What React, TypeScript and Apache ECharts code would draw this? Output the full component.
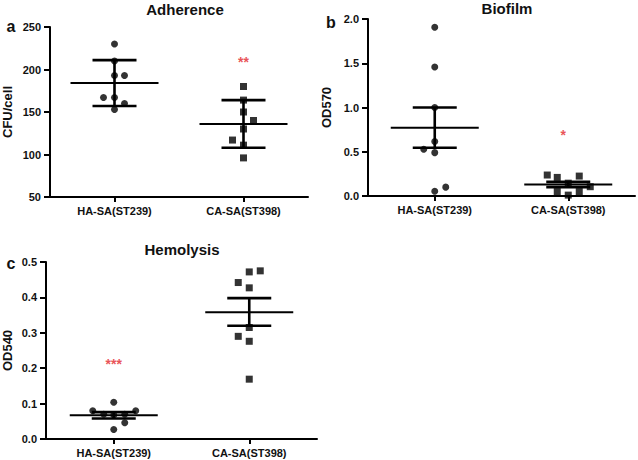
import React, { useEffect, useRef } from "react";
import * as echarts from "echarts";

const categories = ["HA-SA(ST239)", "CA-SA(ST398)"];

// Panel a: Adherence (CFU/cell)
const adherenceHA = [230, 210, 193, 193, 167, 167, 160, 153];
const adherenceCA = [180, 164, 150, 140, 130, 117, 111, 96];
const adherenceMean = [184, 136];
const adherenceLow = [157, 108];
const adherenceHigh = [211, 164];
const adherenceTicks = [50, 100, 150, 200, 250];

// Panel b: Biofilm (OD570)
const biofilmHA = [1.906, 1.457, 1.0, 0.615, 0.528, 0.49, 0.1, 0.053];
const biofilmCA = [0.237, 0.21, 0.145, 0.225, 0.105, 0.05, 0.05, 0.01];
const biofilmMean = [0.77, 0.13];
const biofilmLow = [0.545, 0.1];
const biofilmHigh = [1.0, 0.16];
const biofilmTicks = [0, 0.5, 1.0, 1.5, 2.0];

// Panel c: Hemolysis (OD540)
const hemolysisHA = [0.104, 0.08, 0.08, 0.07, 0.068, 0.07, 0.046, 0.027];
const hemolysisCA = [0.472, 0.475, 0.442, 0.427, 0.315, 0.29, 0.276, 0.169];
const hemolysisMean = [0.067, 0.358];
const hemolysisLow = [0.058, 0.32];
const hemolysisHigh = [0.076, 0.398];
const hemolysisTicks = [0, 0.1, 0.2, 0.3, 0.4, 0.5];

// significance marks: [category index, value, text]
const adherenceSig: [number, number, string] = [1, 208.8, "**"];
const biofilmSig: [number, number, string] = [1, 0.69, "*"];
const hemolysisSig: [number, number, string] = [0, 0.212, "***"];

// horizontal jitter of points (px)
const jitterAHA = [0, 0, 0, 10, -11, 0, 10, 0];
const jitterACA = [0, 0, 0, 10, 0, -11, 0, 0];
const jitterBHA = [0, 0, 0, 0, -11, 0, 11, 0];
const jitterBCA = [-21, -11, 0, 11, 22, -11, 11, 0];
const jitterCHA = [0, -21, 22, -10, 0, 11, 11, 0];
const jitterCCA = [0, 11, -11, 0, 0, -11, 0, 0];

const FONT = "'Liberation Sans', Arial, Helvetica, sans-serif";

export default function App() {
  const ref = useRef<HTMLDivElement>(null);

  useEffect(() => {
    if (!ref.current) return;
    const chart = echarts.init(ref.current, undefined, { renderer: "svg" });

    const grids = [
      { left: 50, top: 27, width: 258, height: 170 },
      { left: 368, top: 19, width: 267, height: 177 },
      { left: 45, top: 262, width: 272, height: 177 },
    ];

    const xAxis = grids.map((_, i) => ({
      type: "category",
      gridIndex: i,
      data: categories,
      boundaryGap: true,
      axisLine: { lineStyle: { color: "#000", width: 2 } },
      axisTick: { show: true, alignWithLabel: true, length: 5, lineStyle: { color: "#000", width: 2 } },
      axisLabel: { color: "#111", fontWeight: "bold", fontSize: 11, fontFamily: FONT, margin: 8 },
      splitLine: { show: false },
    }));

    const yDefs = [
      { ticks: adherenceTicks, name: "CFU/cell", gap: 36, fmt: (v: number) => String(v) },
      { ticks: biofilmTicks, name: "OD570", gap: 35, fmt: (v: number) => v.toFixed(1) },
      { ticks: hemolysisTicks, name: "OD540", gap: 32, fmt: (v: number) => v.toFixed(1) },
    ];

    const yAxis = yDefs.map((d, i) => ({
      type: "value",
      gridIndex: i,
      min: d.ticks[0],
      max: d.ticks[d.ticks.length - 1],
      interval: d.ticks[1] - d.ticks[0],
      name: d.name,
      nameLocation: "middle",
      nameGap: d.gap,
      nameRotate: 90,
      nameTextStyle: { color: "#111", fontWeight: "bold", fontSize: 13, fontFamily: FONT },
      axisLine: { show: true, lineStyle: { color: "#000", width: 2 } },
      axisTick: { show: true, length: 6, lineStyle: { color: "#000", width: 2 } },
      axisLabel: { color: "#111", fontWeight: "bold", fontSize: 11, fontFamily: FONT, margin: 9, formatter: d.fmt },
      splitLine: { show: false },
    }));

    const pointSeries = (
      gi: number,
      cat: number,
      vals: number[],
      jit: number[],
      symbol: string
    ) => ({
      type: "scatter",
      xAxisIndex: gi,
      yAxisIndex: gi,
      symbol,
      symbolSize: 7,
      itemStyle: { color: "#000" },
      z: 2,
      data: vals.map((v, i) => ({ value: [cat, v], symbolOffset: [jit[i], 0] })),
    });

    const barSeries = (gi: number, mean: number[], low: number[], high: number[]) => ({
      type: "custom",
      xAxisIndex: gi,
      yAxisIndex: gi,
      z: 3,
      encode: { x: 0, y: [1, 2, 3] },
      data: categories.map((_, i) => [i, mean[i], low[i], high[i]]),
      renderItem: (_params: any, api: any) => {
        const c = api.value(0);
        const pm = api.coord([c, api.value(1)]);
        const pl = api.coord([c, api.value(2)]);
        const ph = api.coord([c, api.value(3)]);
        const s = { stroke: "#000", lineWidth: 2 };
        const t = { stroke: "#000", lineWidth: 2.6 };
        return {
          type: "group",
          children: [
            { type: "line", shape: { x1: pm[0] - 44, y1: pm[1], x2: pm[0] + 44, y2: pm[1] }, style: s },
            { type: "line", shape: { x1: pl[0], y1: pl[1], x2: ph[0], y2: ph[1] }, style: t },
            { type: "line", shape: { x1: pl[0] - 22, y1: pl[1], x2: pl[0] + 22, y2: pl[1] }, style: t },
            { type: "line", shape: { x1: ph[0] - 22, y1: ph[1], x2: ph[0] + 22, y2: ph[1] }, style: t },
          ],
        };
      },
    });

    const sigSeries = (gi: number, sig: [number, number, string], offsetX: number) => ({
      type: "scatter",
      xAxisIndex: gi,
      yAxisIndex: gi,
      symbol: "circle",
      symbolSize: 0.1,
      itemStyle: { color: "rgba(0,0,0,0)" },
      z: 4,
      label: {
        show: true,
        position: "inside",
        formatter: sig[2],
        color: "#e3262b",
        fontWeight: "bold",
        fontSize: 14,
        fontFamily: FONT,
        offset: [offsetX, 0],
      },
      data: [[sig[0], sig[1]]],
    });

    const series = [
      pointSeries(0, 0, adherenceHA, jitterAHA, "circle"),
      pointSeries(0, 1, adherenceCA, jitterACA, "rect"),
      barSeries(0, adherenceMean, adherenceLow, adherenceHigh),
      sigSeries(0, adherenceSig, 0),
      pointSeries(1, 0, biofilmHA, jitterBHA, "circle"),
      pointSeries(1, 1, biofilmCA, jitterBCA, "rect"),
      barSeries(1, biofilmMean, biofilmLow, biofilmHigh),
      sigSeries(1, biofilmSig, -5),
      pointSeries(2, 0, hemolysisHA, jitterCHA, "circle"),
      pointSeries(2, 1, hemolysisCA, jitterCCA, "rect"),
      barSeries(2, hemolysisMean, hemolysisLow, hemolysisHigh),
      sigSeries(2, hemolysisSig, 0),
    ];

    const textEl = (text: string, x: number, y: number, size: number, align: string) => ({
      type: "text",
      x,
      y,
      style: {
        text,
        fill: "#111",
        font: `bold ${size}px ${FONT}`,
        textAlign: align,
        textVerticalAlign: "middle",
      },
    });

    chart.setOption({
      animation: false,
      backgroundColor: "#fff",
      grid: grids,
      xAxis,
      yAxis,
      series,
      graphic: [
        textEl("Adherence", 185, 9, 15, "center"),
        textEl("Biofilm", 507, 8, 15, "center"),
        textEl("Hemolysis", 182, 249, 15, "center"),
        textEl("a", 11, 26, 16, "center"),
        textEl("b", 331, 22, 16, "center"),
        textEl("c", 11, 263, 16, "center"),
      ],
    });

    return () => chart.dispose();
  }, []);

  return (
    <div
      ref={ref}
      style={{ position: "fixed", left: 0, top: 0, width: 638, height: 460, background: "#fff" }}
    />
  );
}
